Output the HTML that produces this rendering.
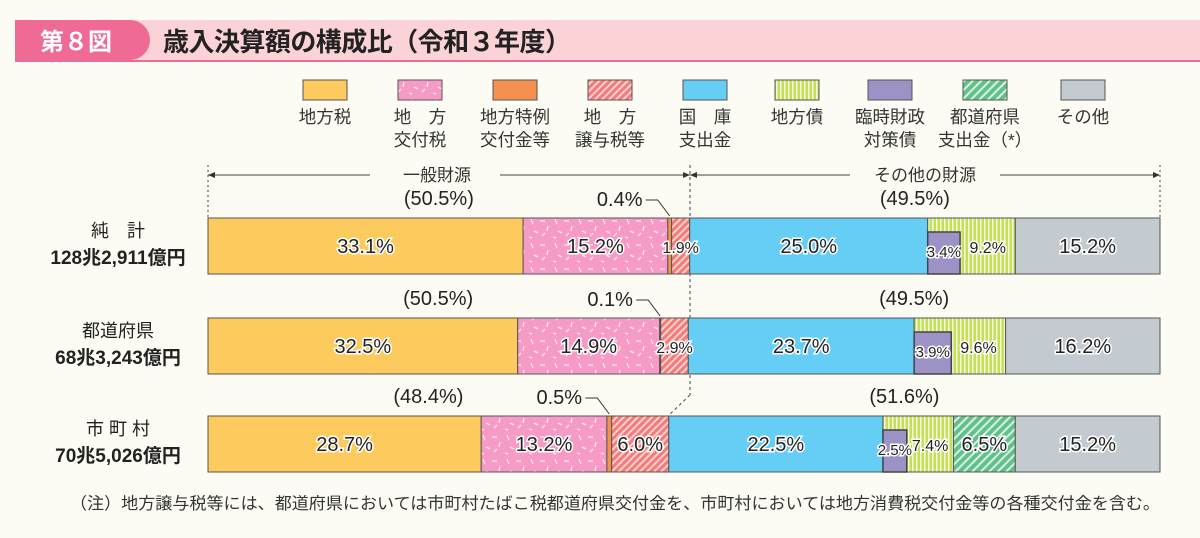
<!DOCTYPE html>
<html><head><meta charset="utf-8"><style>
body{margin:0;background:#fdfcf4;}
svg{display:block;font-family:"Liberation Sans","Noto Sans CJK JP",sans-serif;}
</style></head><body>
<svg width="1200" height="538" viewBox="0 0 1200 538">
<defs>
<pattern id="pk" width="24" height="24" patternUnits="userSpaceOnUse"><rect width="24" height="24" fill="#f59bc6"/><g stroke="#fde3ef" stroke-width="1.3"><line x1="3" y1="3" x2="5" y2="8"/><line x1="12" y1="5" x2="17" y2="5"/><line x1="20" y1="10" x2="19" y2="15"/><line x1="6" y1="15" x2="10" y2="17"/><line x1="14" y1="20" x2="17" y2="17"/><line x1="1" y1="21" x2="4" y2="22"/></g></pattern>
<pattern id="rd" width="5" height="5" patternUnits="userSpaceOnUse" patternTransform="rotate(45)"><rect width="5" height="5" fill="#f37b7a"/><rect width="2" height="5" fill="#fbd0cc"/></pattern>
<pattern id="gy" width="4" height="4" patternUnits="userSpaceOnUse"><rect width="4" height="4" fill="#c5df5c"/><rect width="1.5" height="4" fill="#f4f9d8"/></pattern>
<pattern id="gr" width="6" height="6" patternUnits="userSpaceOnUse" patternTransform="rotate(45)"><rect width="6" height="6" fill="#62c08c"/><rect width="2" height="6" fill="#d8f0e0"/></pattern>
</defs>
<rect x="0" y="0" width="1200" height="538" fill="#fdfcf4"/>
<rect x="15" y="20" width="1185" height="41" fill="#fbd2d6"/>
<rect x="15" y="60" width="1185" height="2" fill="#ef6a95"/>
<path d="M15 20 H130 A20 20 0 0 1 130 60 H15 Z" fill="#ef6a95"/>
<text x="40" y="50" font-size="24" font-weight="bold" fill="#fff">第８図</text>
<text x="163" y="51" font-size="26" font-weight="bold" fill="#222" textLength="408">歳入決算額の構成比（令和３年度）</text>
<g id="legend"></g>
<g stroke="#444" stroke-width="1" fill="none">
<line x1="208" y1="175" x2="370" y2="175"/><line x1="500" y1="175" x2="850" y2="175"/><line x1="1000" y1="175" x2="1158" y2="175"/>
<line x1="208" y1="165" x2="208" y2="218" stroke-dasharray="2,3"/><line x1="1160" y1="165" x2="1160" y2="218" stroke-dasharray="2,3"/>
<line x1="690" y1="165" x2="690" y2="395" stroke-dasharray="3,3"/><line x1="690" y1="395" x2="668" y2="416" stroke-dasharray="3,3"/>
</g>
<path d="M208 175 l7 -3 v6 z M1160 175 l-7 -3 v6 z M690 175 l-7 -3 v6z M690 175 l7 -3 v6z" fill="#333"/>
<text x="437" y="181" font-size="17" text-anchor="middle" fill="#333">一般財源</text>
<text x="925" y="181" font-size="17" text-anchor="middle" fill="#333">その他の財源</text>
<g id="bars"></g>
<text x="70" y="509" font-size="16.5" fill="#333" textLength="1090" lengthAdjust="spacingAndGlyphs">（注）地方譲与税等には、都道府県においては市町村たばこ税都道府県交付金を、市町村においては地方消費税交付金等の各種交付金を含む。</text>
</svg>
<script>
const legendLabels=[["地方税"],["地　方","交付税"],["地方特例","交付金等"],["地　方","譲与税等"],["国　庫","支出金"],["地方債"],["臨時財政","対策債"],["都道府県","支出金（*）"],["その他"]];
const rowNames=["純　計","都道府県","市 町 村"];
const rowTotals=["128兆2,911億円","68兆3,243億円","70兆5,026億円"];
const localTax=[33.1,32.5,28.7];
const allocTax=[15.2,14.9,13.2];
const specialGrant=[0.4,0.1,0.5];
const transferTax=[1.9,2.9,6.0];
const treasury=[25.0,23.7,22.5];
const localBond=[9.2,9.6,7.4];
const tempBond=[3.4,3.9,2.5];
const prefGrant=[0,0,6.5];
const others=[15.2,16.2,15.2];
const generalShare=["(50.5%)","(50.5%)","(48.4%)"];
const otherShare=["(49.5%)","(49.5%)","(51.6%)"];
const NS="http://www.w3.org/2000/svg";
const fills=["#fdca5e","url(#pk)","#f5914f","url(#rd)","#66cdf5","url(#gy)","#9c92c6","url(#gr)","#c3cbd0"];
function mk(t,a,p){const e=document.createElementNS(NS,t);for(const k in a)e.setAttribute(k,a[k]);p.appendChild(e);return e;}
const lg=document.getElementById('legend');
const lx=[325,420,515,610,705,797,890,985,1083];
legendLabels.forEach((l,i)=>{
 const r=mk('rect',{x:lx[i]-22,y:80,width:44,height:20,fill:fills[i],stroke:'#555','stroke-width':1},lg);
 
 
 l.forEach((s,j)=>{const t=mk('text',{x:lx[i],y:123+j*23,'font-size':17.5,'text-anchor':'middle',fill:'#333'},lg);t.textContent=s;
 
 });
});
const bg=document.getElementById('bars');
const X0=208,W=952,rowY=[218,318,416],H=56;
function lbl(x,y,s,size){const t=mk('text',{x:x,y:y,'font-size':size||20,'text-anchor':'middle',fill:'#222',stroke:'#fff','stroke-width':3,'paint-order':'stroke'},bg);t.textContent=s;
 
 return t;}
for(let r=0;r<3;r++){
 const vals=[localTax[r],allocTax[r],specialGrant[r],transferTax[r],treasury[r],localBond[r],prefGrant[r],others[r]];
 const fl=[fills[0],fills[1],fills[2],fills[3],fills[4],fills[5],fills[7],fills[8]];
 const sum=vals.reduce((a,b)=>a+b,0);const sx=v=>v/sum*W;
 const y=rowY[r];let x=X0;const pos=[];
 vals.forEach((v,i)=>{const w=sx(v);pos.push([x,w]);
  if(w>0){const b=mk('rect',{x:x,y:y,width:w,height:H,fill:fl[i],stroke:'#555','stroke-width':1},bg);
  
  }
  x+=w;});
 const [bx]=pos[5];const tw=sx(tempBond[r]);
 const tb=mk('rect',{x:bx,y:y+14,width:tw,height:H-14,fill:fills[6],stroke:'#444','stroke-width':1.5},bg);
 
 
 const cy=y+H/2+7;
 lbl(pos[0][0]+pos[0][1]/2,cy,localTax[r].toFixed(1)+'%');
 lbl(pos[1][0]+pos[1][1]/2,cy,allocTax[r].toFixed(1)+'%');
 lbl(pos[3][0]+pos[3][1]/2,cy,transferTax[r].toFixed(1)+'%',transferTax[r]<3?16:20);
 lbl(pos[4][0]+pos[4][1]/2,cy,treasury[r].toFixed(1)+'%');
 lbl(bx+tw/2,cy+4,tempBond[r].toFixed(1)+'%',15);
 lbl(bx+tw+(pos[5][1]-tw)/2,cy,localBond[r].toFixed(1)+'%',16);
 if(prefGrant[r]>0)lbl(pos[6][0]+pos[6][1]/2,cy,prefGrant[r].toFixed(1)+'%');
 lbl(pos[7][0]+pos[7][1]/2,cy,others[r].toFixed(1)+'%');
 const sgx=pos[2][0]+pos[2][1]/2;
 const ct=lbl(sgx-50,y-12,specialGrant[r].toFixed(1)+'%');ct.setAttribute('stroke-width',0);
 mk('path',{d:`M${sgx-24} ${y-18} H${sgx-12} L${sgx} ${y-2}`,stroke:'#333',fill:'none'},bg);
 const g=pos[0][1]+pos[1][1]+pos[2][1]+pos[3][1];
 const t1=lbl(X0+g/2-10,y-13,generalShare[r]);t1.setAttribute('stroke-width',0);
 const t2=lbl(X0+g+(W-g)/2-10,y-13,otherShare[r]);t2.setAttribute('stroke-width',0);
 const n=mk('text',{x:118,y:y+19,'font-size':18,'text-anchor':'middle',fill:'#222'},bg);n.textContent=rowNames[r];
 
 
 const tt=mk('text',{x:118,y:y+46,'font-size':19,'text-anchor':'middle','font-weight':'bold',fill:'#222'},bg);tt.textContent=rowTotals[r];
 
 
}
</script>
</body></html>
